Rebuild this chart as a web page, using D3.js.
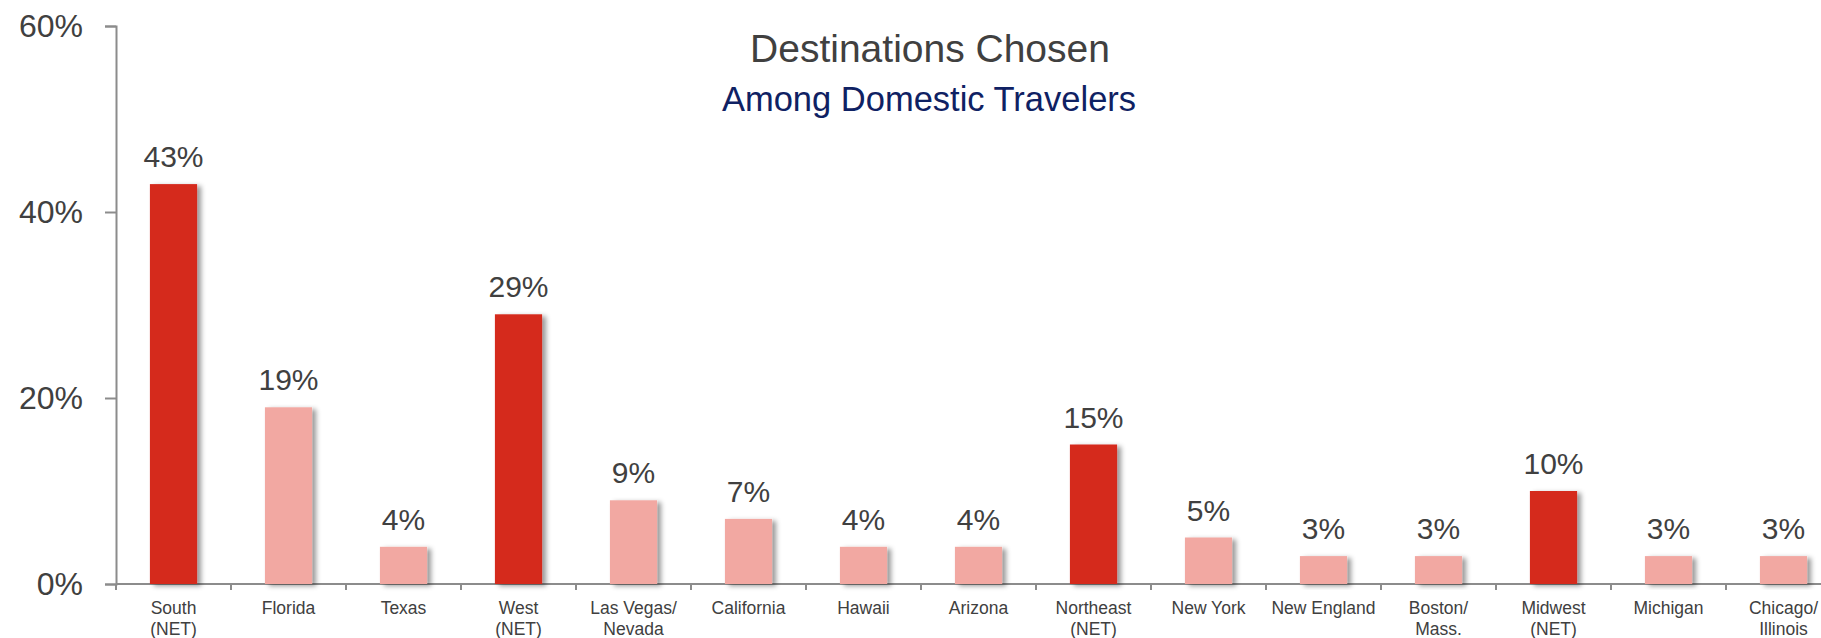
<!DOCTYPE html>
<html>
<head>
<meta charset="utf-8">
<script src="https://cdn.jsdelivr.net/npm/d3@7"></script>
<style>
  body { margin: 0; background: #fff; }
  svg { display: block; }
  text { font-family: "Liberation Sans", Arial, sans-serif; }
</style>
</head>
<body>
<div id="chart"></div>
<script>
// data
const categories = ["South\n(NET)", "Florida", "Texas", "West\n(NET)", "Las Vegas/\nNevada", "California",
  "Hawaii", "Arizona", "Northeast\n(NET)", "New York", "New England", "Boston/\nMass.",
  "Midwest\n(NET)", "Michigan", "Chicago/\nIllinois"];
const values = [43, 19, 4, 29, 9, 7, 4, 4, 15, 5, 3, 3, 10, 3, 3];
const yTicks = [0, 20, 40, 60];
const title = "Destinations Chosen";
const subtitle = "Among Domestic Travelers";

const width = 1821, height = 638;
const netColor = "#d52b1e", subColor = "#f2a8a2";
const textColor = "#404040", axisColor = "#8c8c8c";

const svg = d3.select("#chart")
    .append("svg")
    .attr("width", width)
    .attr("height", height);

// soft shadow like the office chart
const filter = svg.append("defs").append("filter")
    .attr("id", "shadow")
    .attr("x", "-20%").attr("y", "-20%")
    .attr("width", "160%").attr("height", "140%");
filter.append("feDropShadow")
    .attr("dx", 4).attr("dy", 2)
    .attr("stdDeviation", 2.5)
    .attr("flood-color", "#000")
    .attr("flood-opacity", 0.4);

const x0 = 116, step = 115;
const x = d3.scaleBand()
    .domain(categories)
    .range([x0, x0 + step * categories.length])
    .paddingInner(0.59)
    .paddingOuter(0.295);

const y = d3.scaleLinear()
    .domain([0, 60])
    .range([584, 26]);

// y axis
const yAxis = svg.append("g")
    .attr("transform", `translate(${x0},0)`)
    .call(d3.axisLeft(y).tickValues(yTicks).tickSize(11).tickPadding(22).tickFormat(d => d + "%"));
yAxis.select(".domain").attr("stroke", axisColor).attr("stroke-width", 2);
yAxis.selectAll(".tick line").attr("stroke", axisColor).attr("stroke-width", 2);
yAxis.selectAll(".tick text")
    .attr("fill", textColor)
    .style("font-size", "32px");

// x axis line + boundary ticks
svg.append("line")
    .attr("x1", x0).attr("x2", width)
    .attr("y1", y(0)).attr("y2", y(0))
    .attr("stroke", axisColor).attr("stroke-width", 2);

svg.append("g")
    .selectAll("line")
    .data(d3.range(categories.length + 1))
    .enter().append("line")
    .attr("x1", i => x.range()[0] + i * x.step())
    .attr("x2", i => x.range()[0] + i * x.step())
    .attr("y1", y(0))
    .attr("y2", y(0) + 6)
    .attr("stroke", axisColor)
    .attr("stroke-width", 2);

// category labels
const catLabels = svg.append("g")
    .selectAll("text")
    .data(categories)
    .enter().append("text")
    .attr("text-anchor", "middle")
    .attr("fill", textColor)
    .style("font-size", "17.5px")
    .attr("transform", d => `translate(${x(d) + x.bandwidth() / 2},614)`);
catLabels.selectAll("tspan")
    .data(d => d.split("\n"))
    .enter().append("tspan")
    .attr("x", 0)
    .attr("dy", (d, i) => i === 0 ? 0 : 21)
    .text(d => d);

// bars
svg.append("g")
    .selectAll("rect")
    .data(values)
    .enter().append("rect")
    .attr("x", (d, i) => x(categories[i]))
    .attr("y", d => y(d))
    .attr("width", x.bandwidth())
    .attr("height", d => y(0) - y(d))
    .attr("fill", (d, i) => categories[i].includes("(NET)") ? netColor : subColor)
    .attr("filter", "url(#shadow)");

// value labels
svg.append("g")
    .selectAll("text")
    .data(values)
    .enter().append("text")
    .attr("x", (d, i) => x(categories[i]) + x.bandwidth() / 2)
    .attr("y", d => y(d) - 17)
    .attr("text-anchor", "middle")
    .attr("fill", textColor)
    .style("font-size", "30px")
    .text(d => d + "%");

// titles
svg.append("text")
    .attr("x", 930).attr("y", 62)
    .attr("text-anchor", "middle")
    .attr("fill", textColor)
    .style("font-size", "39px")
    .text(title);

svg.append("text")
    .attr("x", 929).attr("y", 111)
    .attr("text-anchor", "middle")
    .attr("fill", "#0f2163")
    .style("font-size", "34.5px")
    .text(subtitle);
</script>
</body>
</html>
